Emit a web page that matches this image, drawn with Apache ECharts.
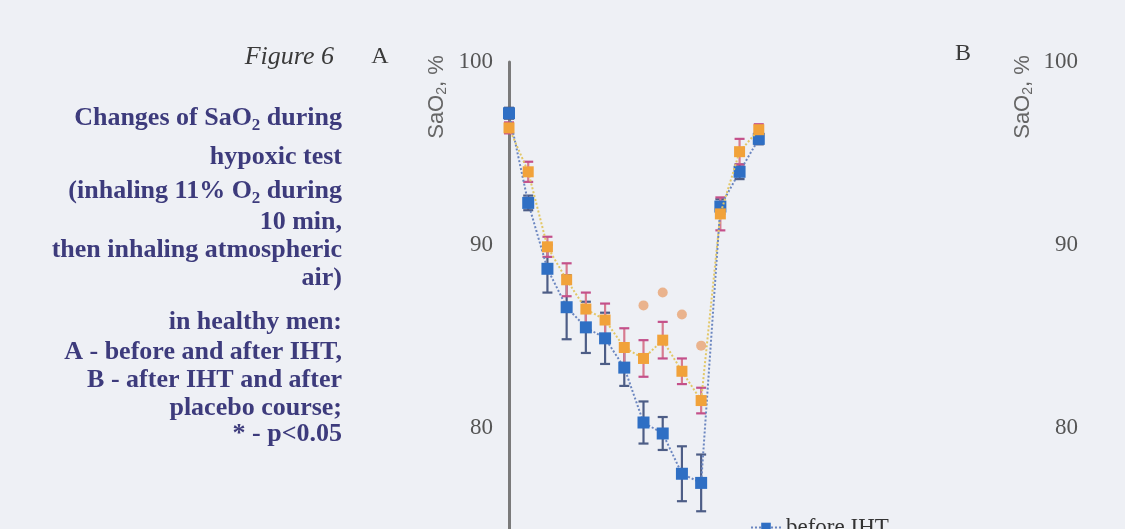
<!DOCTYPE html>
<html>
<head>
<meta charset="utf-8">
<script src="https://cdn.jsdelivr.net/npm/echarts@6/dist/echarts.min.js"></script>
<style>
html,body{margin:0;padding:0;background:#eef0f5;}
#chart{width:1125px;height:529px;}
</style>
</head>
<body>
<div id="chart"></div>
<script>
// ---- data ----
const timePoints = [0, 1, 2, 3, 4, 5, 6, 7, 8, 9, 10, 11, 12, 13];
const beforeMean = [97.2, 92.3, 88.7, 86.6, 85.5, 84.9, 83.3, 80.3, 79.7, 77.5, 77.0, 92.1, 94.0, 95.8];
const beforeErr  = [0.3, 0.4, 1.3, 1.75, 1.4, 1.4, 1.0, 1.15, 0.9, 1.5, 1.55, 0.4, 0.4, 0.3];
const afterMean  = [96.4, 94.0, 89.9, 88.1, 86.5, 85.9, 84.4, 83.8, 84.8, 83.1, 81.5, 91.7, 95.1, 96.3];
const afterErr   = [0.3, 0.55, 0.55, 0.9, 0.9, 0.9, 1.05, 1.0, 1.0, 0.7, 0.7, 0.9, 0.7, 0.3];
const sigPoints  = [7, 8, 9, 10];
const sigValues  = [86.7, 87.4, 86.2, 84.5];
const yTicks = { min: 70, max: 100, interval: 10 };
const seriesNames = ['before IHT', 'after IHT'];

const captionLines = [
  'Changes of SaO{s|2} during',
  'hypoxic test',
  '(inhaling 11% O{s|2} during',
  '10 min,',
  'then inhaling atmospheric',
  'air)',
  'in healthy men:',
  'A - before and after IHT,',
  'B - after IHT and after',
  'placebo course;',
  '* - p<0.05'
];
const captionY = [118, 157, 191, 222, 250, 278, 322, 352, 380, 408, 434];

const chart = echarts.init(document.getElementById('chart'));

const blueLine = '#6b86c0', blueMark = '#2f6fc4', blueBar = '#4d5d86';
const orangeLine = '#e2c766', orangeMark = '#f1a23a', orangeBar = '#d77b90', orangeCap = '#c4508a';
const sigColor = '#e8a473';
const captionColor = '#3d3b7c';

function errBarItem(barColor, capColor) {
  return function (params, api) {
    const x = api.value(0), m = api.value(1), e = api.value(2);
    const top = api.coord([x, m + e]);
    const bot = api.coord([x, m - e]);
    const hw = 5;
    return {
      type: 'group',
      children: [
        { type: 'line', shape: { x1: top[0], y1: top[1], x2: bot[0], y2: bot[1] }, style: { stroke: barColor, lineWidth: 2.2 } },
        { type: 'line', shape: { x1: top[0] - hw, y1: top[1], x2: top[0] + hw, y2: top[1] }, style: { stroke: capColor, lineWidth: 2.2 } },
        { type: 'line', shape: { x1: bot[0] - hw, y1: bot[1], x2: bot[0] + hw, y2: bot[1] }, style: { stroke: capColor, lineWidth: 2.2 } }
      ]
    };
  };
}

const beforeData = timePoints.map((t, i) => [t, beforeMean[i]]);
const afterData = timePoints.map((t, i) => [t, afterMean[i]]);
const beforeErrData = timePoints.map((t, i) => [t, beforeMean[i], beforeErr[i]]);
const afterErrData = timePoints.map((t, i) => [t, afterMean[i], afterErr[i]]);
const sigData = sigPoints.map((t, i) => [t, sigValues[i]]);

const tickLabel = { color: '#555', fontFamily: 'Liberation Serif', fontSize: 23, margin: 16 };

const graphics = [];
captionLines.forEach((txt, i) => {
  graphics.push({
    type: 'text', x: 342, y: captionY[i],
    style: {
      text: txt, align: 'right', verticalAlign: 'middle',
      fill: captionColor, font: 'bold 26px "Liberation Serif"',
      rich: { s: { fill: captionColor, fontSize: 17, fontWeight: 'bold', fontFamily: 'Liberation Serif', padding: [15, 0, 0, 0] } }
    }
  });
});
graphics.push({ type: 'text', x: 334, y: 57, style: { text: 'Figure 6', align: 'right', verticalAlign: 'middle', fill: '#3a3a3a', font: 'italic 26px "Liberation Serif"' } });
graphics.push({ type: 'text', x: 380, y: 57, style: { text: 'A', align: 'center', verticalAlign: 'middle', fill: '#3a3a3a', font: '24px "Liberation Serif"' } });
graphics.push({ type: 'text', x: 963, y: 54, style: { text: 'B', align: 'center', verticalAlign: 'middle', fill: '#3a3a3a', font: '24px "Liberation Serif"' } });
[437, 1023].forEach(cx => {
  graphics.push({
    type: 'text', x: cx, y: 97, rotation: Math.PI / 2,
    style: {
      text: 'SaO{s|2}, %', align: 'center', verticalAlign: 'middle',
      fill: '#666', font: '22px "Liberation Sans"',
      rich: { s: { fill: '#666', fontSize: 14, fontFamily: 'Liberation Sans', padding: [11, 0, 0, 0] } }
    }
  });
});

chart.setOption({
  backgroundColor: '#eef0f5',
  animation: false,
  grid: [
    { left: 509, top: 62, width: 269, height: 549, outerBoundsMode: 'none', containLabel: false },
    { left: 1094, top: 62, width: 30, height: 549, outerBoundsMode: 'none', containLabel: false }
  ],
  xAxis: [
    { type: 'value', gridIndex: 0, min: 0, max: 14, show: false },
    { type: 'value', gridIndex: 1, min: 0, max: 14, show: false }
  ],
  yAxis: [
    { type: 'value', gridIndex: 0, min: yTicks.min, max: yTicks.max, interval: yTicks.interval,
      axisLine: { show: true, lineStyle: { color: '#7a7a7a', width: 3 } },
      axisTick: { show: false }, splitLine: { show: false }, axisLabel: tickLabel },
    { type: 'value', gridIndex: 1, min: yTicks.min, max: yTicks.max, interval: yTicks.interval,
      axisLine: { show: false }, axisTick: { show: false }, splitLine: { show: false }, axisLabel: tickLabel }
  ],
  legend: {
    data: [seriesNames[0]], left: 745, top: 511, itemWidth: 30, itemHeight: 12, itemGap: 4,
    textStyle: { fontFamily: 'Liberation Serif', fontSize: 23, color: '#333' }
  },
  graphic: graphics,
  series: [
    { type: 'custom', name: 'before err', renderItem: errBarItem(blueBar, blueBar), data: beforeErrData, z: 2 },
    { type: 'custom', name: 'after err', renderItem: errBarItem(orangeBar, orangeCap), data: afterErrData, z: 2 },
    { type: 'line', name: seriesNames[0], data: beforeData, symbol: 'rect', symbolSize: 12,
      lineStyle: { color: blueLine, width: 2, type: 'dotted' }, itemStyle: { color: blueMark }, z: 4 },
    { type: 'line', name: seriesNames[1], data: afterData, symbol: 'rect', symbolSize: 11,
      lineStyle: { color: orangeLine, width: 2, type: 'dotted' }, itemStyle: { color: orangeMark }, z: 5 },
    { type: 'scatter', name: '*', data: sigData, symbol: 'circle', symbolSize: 10,
      itemStyle: { color: sigColor }, z: 5 }
  ]
});
</script>
</body>
</html>
